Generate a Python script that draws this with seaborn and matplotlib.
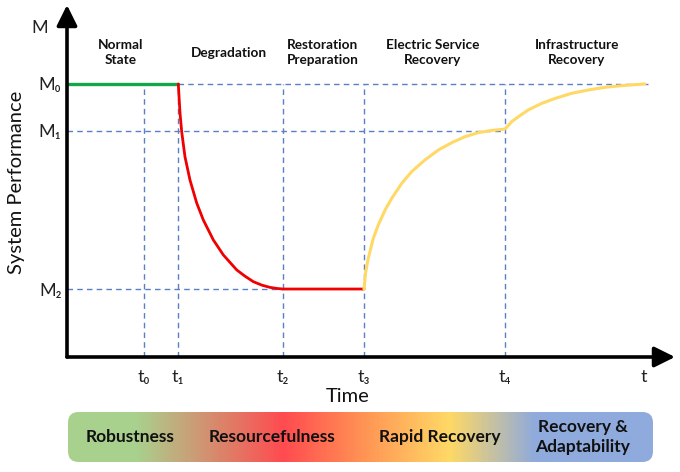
import numpy as np
import pandas as pd
import matplotlib
matplotlib.use("Agg")
import matplotlib.pyplot as plt
import seaborn as sns
from matplotlib.colors import LinearSegmentedColormap
from matplotlib.patches import FancyBboxPatch

# ---------------- data ----------------
t_ticks = [7.7, 11.1, 21.6, 29.7, 43.8, 57.7]
t_labels = ["t₀", "t₁", "t₂", "t₃", "t₄", "t"]
m_ticks = [0.249, 0.828, 1.0, 1.209]
m_labels = ["M₂", "M₁", "M₀", "M"]

normal_x = [0.0, 11.13]
normal_y = [1.0, 1.0]

degr_x = [11.13, 11.3, 11.47, 11.8, 12.3, 12.97, 13.63, 14.63, 15.63, 16.97, 17.8, 18.63,
          19.5, 20.3, 21.0, 21.6, 29.7]
degr_y = [1.0, 0.894, 0.825, 0.733, 0.648, 0.564, 0.502, 0.429, 0.374, 0.319, 0.296, 0.276,
          0.263, 0.255, 0.251, 0.249, 0.249]

recov_x = [29.7, 29.87, 30.13, 30.63, 31.13, 31.8, 32.47, 33.47, 34.47, 35.8, 37.13,
           38.47, 39.8, 41.13, 42.47, 43.8, 44.47, 45.13, 46.13, 47.47, 48.8, 50.47,
           52.13, 53.8, 55.8, 57.8]
recov_y = [0.249, 0.312, 0.362, 0.435, 0.484, 0.538, 0.581, 0.636, 0.679, 0.722, 0.758,
           0.785, 0.807, 0.822, 0.830, 0.835, 0.862, 0.880, 0.905, 0.929, 0.947, 0.966,
           0.978, 0.988, 0.995, 1.0]

phase_names = ["Normal\nState", "Degradation", "Restoration\nPreparation",
               "Electric Service\nRecovery", "Infrastructure\nRecovery"]
phase_x = [5.4, 16.2, 25.6, 36.6, 51.0]

band_names = ["Robustness", "Resourcefulness", "Rapid Recovery", "Recovery &\nAdaptability"]
band_x = [0.106, 0.349, 0.636, 0.880]
band_stops = [0.0, 0.115, 0.368, 0.516, 0.653, 0.80, 1.0]
band_colors = ["#a9d18e", "#a9d18e", "#ff4b50", "#ff9955", "#ffd966", "#8faadc", "#8faadc"]

# ---------------- style ----------------
sns.set_style("white")
plt.rcParams["font.family"] = ["Lato", "DejaVu Sans"]

W, H = 680, 472
fig = plt.figure(figsize=(W / 100, H / 100), dpi=100)

def px_axes(x0, y0, x1, y1):
    return fig.add_axes([x0 / W, 1 - y1 / H, (x1 - x0) / W, (y1 - y0) / H])

X0, X1, Y0, Y1 = 67, 675, 5, 357
ax = px_axes(X0, Y0, X1, Y1)
ax.set_xlim(0, (X1 - X0) / 10)
ax.set_ylim(0, (Y1 - Y0) / 273)
for s in ax.spines.values():
    s.set_visible(False)

dash_kw = dict(color="#5b7fc4", lw=1.0, ls=(0, (4, 3)), zorder=1)
# horizontal guides
ax.plot([11.1, 58.1], [1.0, 1.0], **dash_kw)
ax.plot([0, 43.8], [0.828, 0.828], **dash_kw)
ax.plot([0, 21.6], [0.249, 0.249], **dash_kw)
# vertical guides
for tv in t_ticks[:5]:
    ax.plot([tv, tv], [0, 1.0], **dash_kw)

df_n = pd.DataFrame({"x": normal_x, "y": normal_y})
df_d = pd.DataFrame({"x": degr_x, "y": degr_y})
df_r = pd.DataFrame({"x": recov_x, "y": recov_y})
sns.lineplot(data=df_n, x="x", y="y", ax=ax, color="#12a84a", lw=2.4, sort=False, zorder=3)
sns.lineplot(data=df_d, x="x", y="y", ax=ax, color="#f00000", lw=2.0, sort=False, zorder=3,
             solid_joinstyle="round")
sns.lineplot(data=df_r, x="x", y="y", ax=ax, color="#ffd966", lw=2.2, sort=False, zorder=3,
             solid_joinstyle="round")

# axis arrows
arrow_kw = dict(arrowstyle="-|>,head_length=1.25,head_width=0.62", lw=2.6, color="black",
                mutation_scale=10, shrinkA=0, shrinkB=0)
ax.annotate("", xy=(1.0, 0.0), xytext=(0.0, 0.0), xycoords="axes fraction",
            arrowprops=arrow_kw, annotation_clip=False)
ax.annotate("", xy=(0.0, 1.0), xytext=(0.0, 0.0), xycoords="axes fraction",
            arrowprops=arrow_kw, annotation_clip=False)

ax.set_xticks(t_ticks, t_labels)
ax.set_yticks(m_ticks, m_labels)
ax.tick_params(axis="x", length=0, pad=9, labelsize=13, labelcolor="#222222")
ax.tick_params(axis="y", length=0, pad=4, labelsize=13, labelcolor="#222222")
ax.yaxis.get_major_ticks()[-1].set_pad(14)
ax.set_xlabel("Time", fontsize=14.5, color="#111111")
ax.xaxis.set_label_coords((348 - X0) / (X1 - X0), -(388 - Y1) / (Y1 - Y0))
ax.set_ylabel("System Performance", fontsize=14.5, color="#111111")
ax.yaxis.set_label_coords(-(67 - 25) / (X1 - X0), 1 - (182 - Y0) / (Y1 - Y0))

for name, xv in zip(phase_names, phase_x):
    ax.text(xv, 1.114, name, ha="center", va="center", fontsize=9.8, fontweight="bold",
            color="#111111", linespacing=1.3)

# ---------------- gradient band ----------------
bax = px_axes(68, 412, 653, 462)
bax.set_xlim(0, 1)
bax.set_ylim(0, 1)
bax.axis("off")
cmap = LinearSegmentedColormap.from_list("band", list(zip(band_stops, band_colors)))
grad = np.linspace(0, 1, 600).reshape(1, -1)
im = bax.imshow(grad, aspect="auto", cmap=cmap, extent=(0, 1, 0, 1), zorder=1)
clip = FancyBboxPatch((0.0, 0.0), 1.0, 1.0, boxstyle="round,pad=0,rounding_size=0.018",
                      transform=bax.transData, facecolor="none", edgecolor="none",
                      mutation_aspect=585 / 50)
bax.add_patch(clip)
im.set_clip_path(clip)
for name, xv in zip(band_names, band_x):
    bax.text(xv, 0.5, name, ha="center", va="center", fontsize=12.5, fontweight="bold",
             color="#111111", linespacing=1.25)

fig.savefig("out.png", dpi=100)
